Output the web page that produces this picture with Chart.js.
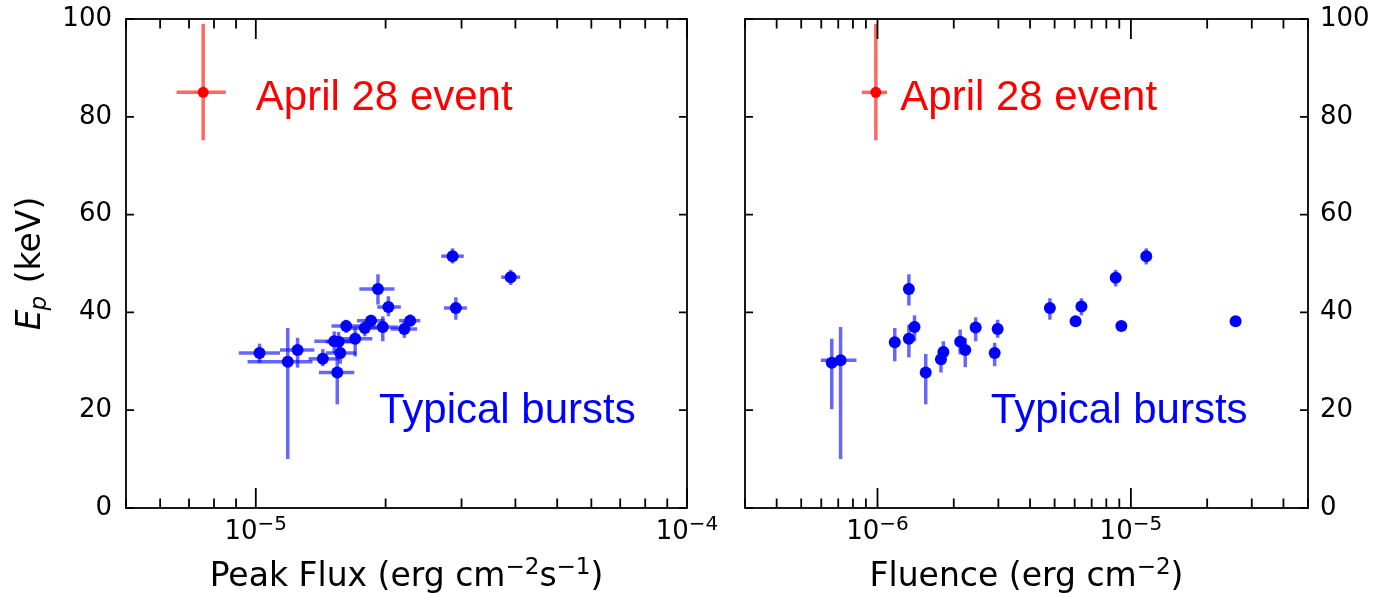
<!DOCTYPE html>
<html>
<head>
<meta charset="utf-8">
<script src="https://cdn.jsdelivr.net/npm/chart.js@4.4.0/dist/chart.umd.min.js"></script>
<style>
  body { margin: 0; background: #fff; width: 1377px; height: 593px; overflow: hidden; position: relative; }
  canvas { position: absolute; top: 0; }
  #fluxChart { left: 0; }
  #fluenceChart { left: 700px; }
</style>
</head>
<body>
<canvas id="fluxChart" width="740" height="593"></canvas>
<canvas id="fluenceChart" width="677" height="593"></canvas>
<script>
// Typical bursts, peak flux panel (erg cm^-2 s^-1) with error bounds
const peakFlux   = [1.02e-5, 1.186e-5, 1.25e-5, 1.43e-5, 1.52e-5, 1.556e-5, 1.57e-5, 1.545e-5, 1.62e-5, 1.70e-5,
                    1.79e-5, 1.85e-5, 1.92e-5, 1.97e-5, 2.03e-5, 2.21e-5, 2.28e-5, 2.86e-5, 2.91e-5, 3.90e-5];
const peakFluxLo = [9.13e-6, 9.57e-6, 1.138e-5, 1.326e-5, 1.367e-5, 1.453e-5, 1.453e-5, 1.401e-5, 1.498e-5, 1.561e-5,
                    1.659e-5, 1.717e-5, 1.738e-5, 1.818e-5, 1.913e-5, 2.054e-5, 2.149e-5, 2.692e-5, 2.731e-5, 3.707e-5];
const peakFluxHi = [1.138e-5, 1.353e-5, 1.367e-5, 1.561e-5, 1.676e-5, 1.676e-5, 1.710e-5, 1.692e-5, 1.781e-5, 1.863e-5,
                    1.952e-5, 1.992e-5, 2.097e-5, 2.140e-5, 2.170e-5, 2.368e-5, 2.407e-5, 3.037e-5, 3.087e-5, 4.103e-5];
const peakEp     = [31.7, 29.9, 32.3, 30.5, 34.1, 34.0, 31.7, 27.7, 37.2, 34.6, 36.8, 38.3, 44.8, 37.0, 41.1, 36.6, 38.3, 51.5, 40.9, 47.2];
const peakEpLo   = [29.7, 10.0, 28.7, 29.0, 31.7, 32.0, 29.5, 21.2, 35.8, 31.0, 35.1, 37.0, 41.6, 34.1, 39.2, 34.8, 37.2, 50.0, 38.5, 45.6];
const peakEpHi   = [33.6, 36.8, 34.8, 32.5, 36.1, 36.0, 34.0, 31.4, 38.5, 36.8, 38.2, 39.5, 47.8, 39.2, 43.3, 38.2, 39.6, 53.1, 43.1, 48.7];

// Typical bursts, fluence panel (erg cm^-2)
const fluence    = [6.6e-7, 7.15e-7, 1.17e-6, 1.33e-6, 1.33e-6, 1.40e-6, 1.55e-6, 1.78e-6, 1.82e-6, 2.12e-6, 2.22e-6,
                    2.44e-6, 2.90e-6, 2.98e-6, 4.79e-6, 6.05e-6, 6.38e-6, 8.71e-6, 9.17e-6, 1.15e-5, 2.59e-5];
const fluenceLo  = [6.5e-7, 5.98e-7, 1.15e-6, 1.31e-6, 1.31e-6, 1.38e-6, 1.53e-6, 1.75e-6, 1.79e-6, 2.09e-6, 2.19e-6,
                    2.40e-6, 2.86e-6, 2.94e-6, 4.72e-6, 5.96e-6, 6.29e-6, 8.58e-6, 9.04e-6, 1.13e-5, 2.55e-5];
const fluenceHi  = [6.7e-7, 8.26e-7, 1.19e-6, 1.35e-6, 1.35e-6, 1.42e-6, 1.57e-6, 1.81e-6, 1.85e-6, 2.15e-6, 2.25e-6,
                    2.48e-6, 2.94e-6, 3.02e-6, 4.86e-6, 6.14e-6, 6.47e-6, 8.84e-6, 9.30e-6, 1.17e-5, 2.63e-5];
const fluenceEp   = [29.7, 30.2, 33.9, 44.8, 34.6, 37.0, 27.7, 30.4, 31.9, 34.0, 32.3, 36.9, 31.7, 36.6, 40.9, 38.2, 41.2, 47.1, 37.2, 51.5, 38.2];
const fluenceEpLo = [20.2, 10.0, 30.0, 41.4, 30.8, 34.1, 21.2, 27.7, 29.4, 31.4, 28.8, 34.1, 29.0, 34.8, 38.5, 37.5, 39.4, 45.3, 36.8, 49.8, 37.6];
const fluenceEpHi = [34.6, 37.0, 36.8, 47.8, 37.5, 39.4, 31.5, 32.7, 34.1, 36.5, 34.8, 39.0, 33.8, 38.5, 42.9, 39.2, 42.9, 48.7, 38.2, 53.1, 38.8];

// April 28 event
const eventFlux    = [7.55e-6];
const eventFluxLo  = [6.55e-6];
const eventFluxHi  = [8.52e-6];
const eventFluence   = [9.85e-7];
const eventFluenceLo = [8.67e-7];
const eventFluenceHi = [1.09e-6];
const eventEp   = [85];
const eventEpLo = [75.2];
const eventEpHi = [99];

// axes
const fluxTicks    = [5e-6, 6e-6, 7e-6, 8e-6, 9e-6, 1e-5, 2e-5, 3e-5, 4e-5, 5e-5, 6e-5, 7e-5, 8e-5, 9e-5, 1e-4];
const fluenceTicks = [3e-7, 4e-7, 5e-7, 6e-7, 7e-7, 8e-7, 9e-7, 1e-6, 2e-6, 3e-6, 4e-6, 5e-6, 6e-6, 7e-6, 8e-6, 9e-6,
                      1e-5, 2e-5, 3e-5, 4e-5, 5e-5];
const epTicks = [0, 20, 40, 60, 80, 100];
// rich text pieces: [text, isSuperscript]
const fluxTitle    = [['Peak Flux (erg cm', 0], ['\u22122', 1], ['s', 0], ['\u22121', 1], [')', 0]];
const fluenceTitle = [['Fluence (erg cm', 0], ['\u22122', 1], [')', 0]];

const RED = '#ff0000';
const BLUE = '#0000ff';
const AXIS_FONT = 'DejaVu Sans';
const NOTE_FONT = 'Liberation Sans, Arial, Helvetica, sans-serif';

function isDecade(v) {
    const l = Math.log10(v);
    return Math.abs(l - Math.round(l)) < 1e-6;
}

function points(xs, ys) {
    return xs.map((x, i) => ({ x: x, y: ys[i] }));
}

// draws text with superscripts, centred on cx
function drawRich(ctx, parts, cx, baseline, size, supSize, rise) {
    const widths = parts.map(p => {
        ctx.font = (p[1] ? supSize : size) + 'px ' + AXIS_FONT;
        return ctx.measureText(p[0]).width;
    });
    let x = cx - widths.reduce((a, b) => a + b, 0) / 2;
    ctx.textAlign = 'left';
    ctx.textBaseline = 'alphabetic';
    parts.forEach((p, i) => {
        ctx.font = (p[1] ? supSize : size) + 'px ' + AXIS_FONT;
        ctx.fillText(p[0], x, p[1] ? baseline - rise : baseline);
        x += widths[i];
    });
}

// error bars drawn under the markers
const errorBars = {
    id: 'errorBars',
    beforeDatasetsDraw(chart) {
        const { ctx, scales: { x, y } } = chart;
        ctx.save();
        ctx.lineWidth = 3.5;
        ctx.lineCap = 'butt';
        chart.data.datasets.forEach(ds => {
            ctx.strokeStyle = ds.errColor;
            ds.data.forEach((p, i) => {
                const px = x.getPixelForValue(p.x);
                const py = y.getPixelForValue(p.y);
                ctx.beginPath();
                ctx.moveTo(x.getPixelForValue(ds.xLo[i]), py);
                ctx.lineTo(x.getPixelForValue(ds.xHi[i]), py);
                ctx.stroke();
                ctx.beginPath();
                ctx.moveTo(px, y.getPixelForValue(ds.yLo[i]));
                ctx.lineTo(px, y.getPixelForValue(ds.yHi[i]));
                ctx.stroke();
            });
        });
        ctx.restore();
    }
};

// matplotlib-like box with inward ticks on all sides, decade labels and x title
const frame = {
    id: 'frame',
    afterDraw(chart, args, opts) {
        const { ctx, chartArea: a, scales: { x, y } } = chart;
        ctx.save();
        ctx.strokeStyle = '#000';
        ctx.lineWidth = 1.8;
        ctx.strokeRect(a.left, a.top, a.right - a.left, a.bottom - a.top);
        ctx.beginPath();
        x.ticks.forEach(t => {
            const px = x.getPixelForValue(t.value);
            const len = isDecade(t.value) ? 20 : 9.5;
            ctx.moveTo(px, a.bottom); ctx.lineTo(px, a.bottom - len);
            ctx.moveTo(px, a.top); ctx.lineTo(px, a.top + len);
        });
        y.ticks.forEach(t => {
            const py = y.getPixelForValue(t.value);
            ctx.moveTo(a.left, py); ctx.lineTo(a.left + 8, py);
            ctx.moveTo(a.right, py); ctx.lineTo(a.right - 8, py);
        });
        ctx.stroke();
        ctx.fillStyle = '#000';
        x.ticks.filter(t => isDecade(t.value)).forEach(t => {
            const e = Math.round(Math.log10(t.value));
            drawRich(ctx, [['10', 0], ['\u2212' + Math.abs(e), 1]], x.getPixelForValue(t.value), a.bottom + 31, 26, 20, 9);
        });
        drawRich(ctx, opts.title, (a.left + a.right) / 2, a.bottom + 78, 33, 23, 12);
        ctx.restore();
    }
};

// text notes placed in data coordinates, and the y title
const notes = {
    id: 'notes',
    afterDatasetsDraw(chart, args, opts) {
        const { ctx, scales: { x, y } } = chart;
        ctx.save();
        ctx.textAlign = 'left';
        ctx.textBaseline = 'alphabetic';
        (opts.items || []).forEach(n => {
            ctx.fillStyle = n.color;
            ctx.font = '42px ' + NOTE_FONT;
            ctx.fillText(n.text, x.getPixelForValue(n.x), y.getPixelForValue(n.y));
        });
        if (opts.yTitle) {
            ctx.translate(opts.yTitle.x, (chart.chartArea.top + chart.chartArea.bottom) / 2);
            ctx.rotate(-Math.PI / 2);
            ctx.fillStyle = '#000';
            const big = 'italic 33px ' + AXIS_FONT;
            const small = 'italic 23px ' + AXIS_FONT;
            const rest = '33px ' + AXIS_FONT;
            ctx.font = big; const wE = ctx.measureText('E').width;
            ctx.font = small; const wP = ctx.measureText('p').width;
            ctx.font = rest; const wR = ctx.measureText(' (keV)').width;
            let cx = -(wE + wP + 1 + wR) / 2;
            ctx.textBaseline = 'middle';
            ctx.font = big; ctx.fillText('E', cx, 0); cx += wE;
            ctx.font = small; ctx.fillText('p', cx - 1, 9); cx += wP + 1;
            ctx.font = rest; ctx.fillText(' (keV)', cx, 0);
        }
        ctx.restore();
    }
};

function makeChart(id, cfg) {
    return new Chart(document.getElementById(id), {
        type: 'scatter',
        data: {
            datasets: [
                {
                    data: points(cfg.xs, cfg.ys),
                    xLo: cfg.xLo, xHi: cfg.xHi, yLo: cfg.yLo, yHi: cfg.yHi,
                    errColor: 'rgba(0, 0, 255, 0.6)',
                    backgroundColor: BLUE, borderColor: BLUE, borderWidth: 0,
                    pointRadius: 6
                },
                {
                    data: points(cfg.exs, eventEp),
                    xLo: cfg.exLo, xHi: cfg.exHi, yLo: eventEpLo, yHi: eventEpHi,
                    errColor: 'rgba(255, 0, 0, 0.6)',
                    backgroundColor: RED, borderColor: RED, borderWidth: 0,
                    pointRadius: 5.5
                }
            ]
        },
        options: {
            responsive: false,
            animation: false,
            events: [],
            layout: { padding: cfg.padding },
            plugins: {
                legend: { display: false },
                tooltip: { enabled: false },
                notes: { items: cfg.notes, yTitle: cfg.yTitle },
                frame: { title: cfg.xTitle }
            },
            scales: {
                x: {
                    type: 'logarithmic',
                    min: cfg.ticks[0],
                    max: cfg.ticks[cfg.ticks.length - 1],
                    grid: { display: false, drawTicks: false },
                    border: { display: false },
                    afterBuildTicks: s => { s.ticks = cfg.ticks.map(v => ({ value: v })); },
                    afterFit: s => { s.height = 85; s.paddingLeft = 0; s.paddingRight = 0; },
                    ticks: { autoSkip: false, maxRotation: 0, minRotation: 0, callback: () => '' }
                },
                y: {
                    position: cfg.yPos,
                    min: 0, max: 100,
                    grid: { display: false, drawTicks: false },
                    border: { display: false },
                    afterBuildTicks: s => { s.ticks = epTicks.map(v => ({ value: v })); },
                    afterFit: s => { s.width = cfg.yWidth; s.paddingTop = 0; s.paddingBottom = 0; },
                    ticks: {
                        padding: cfg.yPad, color: '#000', font: { family: AXIS_FONT, size: 26 }
                    }
                }
            }
        },
        plugins: [errorBars, frame, notes]
    });
}

makeChart('fluxChart', {
    xs: peakFlux, ys: peakEp, xLo: peakFluxLo, xHi: peakFluxHi, yLo: peakEpLo, yHi: peakEpHi,
    exs: eventFlux, exLo: eventFluxLo, exHi: eventFluxHi,
    ticks: fluxTicks,
    xTitle: fluxTitle,
    yPos: 'left', yWidth: 126, yPad: 14,
    padding: { top: 19, right: 53, left: 0, bottom: 0 },
    yTitle: { x: 31 },
    notes: [
        { text: 'April 28 event', color: RED, x: 1e-5, y: 81.4 },
        { text: 'Typical bursts', color: BLUE, x: 1.93e-5, y: 17.4 }
    ]
});

makeChart('fluenceChart', {
    xs: fluence, ys: fluenceEp, xLo: fluenceLo, xHi: fluenceHi, yLo: fluenceEpLo, yHi: fluenceEpHi,
    exs: eventFluence, exLo: eventFluenceLo, exHi: eventFluenceHi,
    ticks: fluenceTicks,
    xTitle: fluenceTitle,
    yPos: 'right', yWidth: 69, yPad: 12,
    padding: { top: 19, right: 0, left: 45, bottom: 0 },
    yTitle: null,
    notes: [
        { text: 'April 28 event', color: RED, x: 1.23e-6, y: 81.4 },
        { text: 'Typical bursts', color: BLUE, x: 2.8e-6, y: 17.4 }
    ]
});
</script>
</body>
</html>
